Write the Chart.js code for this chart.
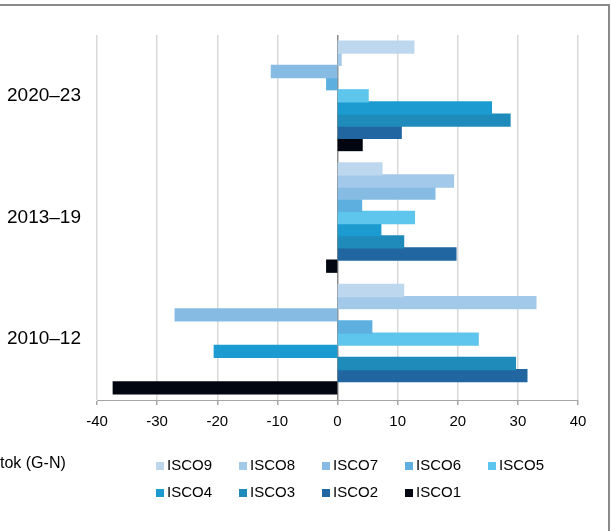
<!DOCTYPE html>
<html>
<head>
<meta charset="utf-8">
<script src="https://cdn.jsdelivr.net/npm/chart.js@4"></script>
<style>
html, body { margin: 0; padding: 0; background: #fff; }
#wrap { position: relative; width: 612px; height: 531px; overflow: hidden; font-family: "Liberation Sans", Arial, sans-serif; color: #000; }
#frame { position: absolute; left: -5px; top: 4px; width: 615px; height: 600px; box-sizing: border-box; border-top: 2px solid #8a8a8a; border-right: 2px solid #8a8a8a; }
#chart { position: absolute; left: 0; top: 0; }
.item { position: absolute; font-size: 15px; line-height: 20px; white-space: nowrap; }
.item .box { display: inline-block; width: 8px; height: 8px; margin-right: 3px; vertical-align: 0px; }
#note { position: absolute; left: 0; top: 453px; font-size: 16px; line-height: 20px; }
</style>
</head>
<body>
<div id="wrap">
  <div id="frame"></div>
  <canvas id="chart" width="612" height="531"></canvas>
  <div id="note">tok (G-N)</div>
  <div id="legend"></div>
</div>
<script>
var categories = ['2020–23', '2013–19', '2010–12'];
var seriesNames = ['ISCO9', 'ISCO8', 'ISCO7', 'ISCO6', 'ISCO5', 'ISCO4', 'ISCO3', 'ISCO2', 'ISCO1'];

var isco9 = [12.7, 7.4, 11.0];
var isco8 = [0.6, 19.3, 33.0];
var isco7 = [-11.0, 16.2, -27.0];
var isco6 = [-1.8, 4.0, 5.7];
var isco5 = [5.1, 12.8, 23.4];
var isco4 = [25.6, 7.2, -20.5];
var isco3 = [28.7, 11.0, 29.6];
var isco2 = [10.6, 19.7, 31.5];
var isco1 = [4.1, -1.8, -37.3];

var xTicks = [-40, -30, -20, -10, 0, 10, 20, 30, 40];

var seriesValues = [isco9, isco8, isco7, isco6, isco5, isco4, isco3, isco2, isco1];
var colors = ['#bdd7ee', '#a2c9e9', '#86bce3', '#5dafdf', '#5ec5ed', '#1b9bcf', '#1f8bbb', '#2166a0', '#020611'];

var font = '"Liberation Sans", Arial, sans-serif';

var ctx = document.getElementById('chart').getContext('2d');
var chart = new Chart(ctx, {
  type: 'bar',
  data: {
    labels: categories,
    datasets: seriesNames.map(function (name, i) {
      return {
        label: name,
        data: seriesValues[i],
        backgroundColor: colors[i],
        borderWidth: 0,
        inflateAmount: 0.6,
        barPercentage: 1,
        categoryPercentage: 0.9
      };
    })
  },
  options: {
    indexAxis: 'y',
    responsive: false,
    animation: false,
    devicePixelRatio: 1,
    layout: {
      padding: { top: 35, right: 34, bottom: 91, left: 0 }
    },
    plugins: {
      legend: { display: false },
      tooltip: { enabled: false }
    },
    scales: {
      x: {
        min: xTicks[0],
        max: xTicks[xTicks.length - 1],
        afterBuildTicks: function (scale) {
          scale.ticks = xTicks.map(function (v) { return { value: v }; });
        },
        afterFit: function (scale) { scale.height = 40; },
        ticks: {
          color: '#000',
          font: { family: font, size: 15 },
          padding: 8,
          maxRotation: 0
        },
        grid: {
          color: function (c) {
            return c.tick && c.tick.value === 0 ? '#8c8c8c' : '#d9d9d9';
          },
          lineWidth: 1.5,
          tickLength: 5,
          tickColor: '#a6a6a6'
        },
        border: { display: true, color: '#a6a6a6', width: 1 }
      },
      y: {
        afterFit: function (scale) { scale.width = 97; },
        ticks: {
          color: '#000',
          font: { family: font, size: 19 },
          padding: 16
        },
        grid: { display: false, drawTicks: false },
        border: { display: false }
      }
    }
  }
});

// legend laid out in columns like the original
var legendEl = document.getElementById('legend');
chart.data.datasets.forEach(function (ds, i) {
  var item = document.createElement('div');
  item.className = 'item';
  item.style.left = (156 + (i % 5) * 83) + 'px';
  item.style.top = (i < 5 ? 455 : 482) + 'px';
  var box = document.createElement('span');
  box.className = 'box';
  box.style.background = ds.backgroundColor;
  item.appendChild(box);
  item.appendChild(document.createTextNode(ds.label));
  legendEl.appendChild(item);
});
</script>
</body>
</html>
